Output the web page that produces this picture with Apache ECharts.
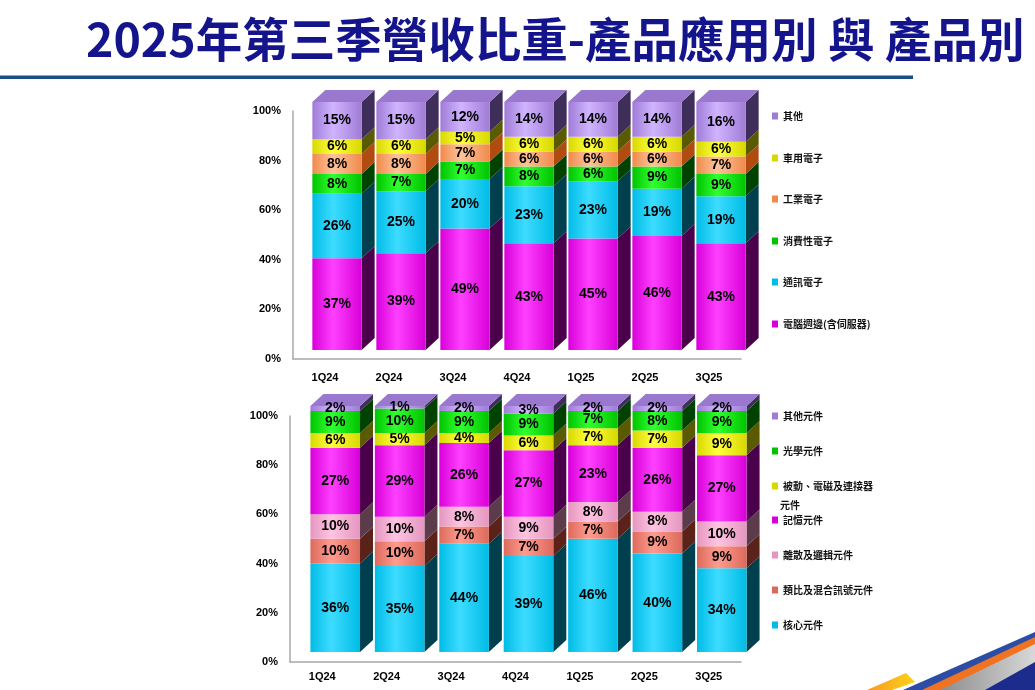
<!DOCTYPE html>
<html style="height: 100%">
<head>
    <meta charset="utf-8">
    <script src="https://cdn.jsdelivr.net/npm/echarts@6/dist/echarts.min.js"></script>
</head>
<body style="height: 100%; margin: 0; background: #fff">
<div id="container" style="width: 1035px; height: 690px"></div>

<script type="text/javascript">
    // quarters
    var quarters = ['1Q24', '2Q24', '3Q24', '4Q24', '1Q25', '2Q25', '3Q25'];
    var yTicks = [0, 20, 40, 60, 80, 100];

    // 產品應用別 (bottom -> top)
    var appNames = ['電腦週邊(含伺服器)', '通訊電子', '消費性電子', '工業電子', '車用電子', '其他'];
    var pcServer   = [37, 39, 49, 43, 45, 46, 43];
    var comm       = [26, 25, 20, 23, 23, 19, 19];
    var consumer   = [8, 7, 7, 8, 6, 9, 9];
    var industrial = [8, 8, 7, 6, 6, 6, 7];
    var automotive = [6, 6, 5, 6, 6, 6, 6];
    var appOther   = [15, 15, 12, 14, 14, 14, 16];

    // 產品別 (bottom -> top)
    var prodNames = ['核心元件', '類比及混合訊號元件', '離散及邏輯元件', '記憶元件', '被動、電磁及連接器元件', '光學元件', '其他元件'];
    var core     = [36, 35, 44, 39, 46, 40, 34];
    var analog   = [10, 10, 7, 7, 7, 9, 9];
    var discrete = [10, 10, 8, 9, 8, 8, 10];
    var memory   = [27, 29, 26, 27, 23, 26, 27];
    var passive  = [6, 5, 4, 6, 7, 7, 9];
    var optical  = [9, 10, 9, 9, 7, 8, 9];
    var prodOther = [2, 1, 2, 3, 2, 2, 2];

    // colours: [front, highlight, side, top]
    var C = {
        magenta: ['#d800d8', '#ff40ff', '#4a004a', '#ff88ff'],
        cyan:    ['#00bce6', '#3ddcff', '#003f4e', '#7ce6ff'],
        green:   ['#00c400', '#30ff30', '#004200', '#60ff60'],
        orange:  ['#f08a4c', '#ffc39a', '#b04c10', '#ffb080'],
        yellow:  ['#d8d800', '#ffff40', '#5a5a00', '#ffff70'],
        lavender:['#a07cd6', '#d0b4ff', '#3f2d5a', '#9a78d0'],
        salmon:  ['#dc6a5c', '#ff9c8e', '#5a2219', '#ff9c8e'],
        pink:    ['#e496bf', '#ffc4e2', '#5c3c4a', '#ffc4e2']
    };
    var appColors = [C.magenta, C.cyan, C.green, C.orange, C.yellow, C.lavender];
    var prodColors = [C.cyan, C.salmon, C.pink, C.magenta, C.yellow, C.green, C.lavender];

    var DX = 13, DY = 12;

    function buildSeries(names, lists, colors, axisIdx, offX, offY) {
        var base = quarters.map(function () { return 0; });
        return names.map(function (name, k) {
            var col = colors[k];
            var isTop = k === names.length - 1;
            var data = lists[k].map(function (v, i) { return [i, base[i], v]; });
            lists[k].forEach(function (v, i) { base[i] += v; });
            return {
                name: name,
                type: 'custom',
                xAxisIndex: axisIdx,
                yAxisIndex: axisIdx,
                itemStyle: { color: col[0] },
                encode: { x: 0, y: 2 },
                data: data,
                renderItem: function (params, api) {
                    var i = api.value(0), b = api.value(1), v = api.value(2);
                    var p0 = api.coord([i, b]);
                    var p1 = api.coord([i, b + v]);
                    var bw = api.size([1, 0])[0] * 0.77;
                    var cx = p0[0] + offX;
                    var y0 = p0[1] - offY, y1 = p1[1] - offY;
                    var xl = cx - bw / 2, xr = cx + bw / 2;
                    var kids = [
                        { type: 'polygon', shape: { points: [[xr, y0], [xr + DX, y0 - DY], [xr + DX, y1 - DY], [xr, y1]] },
                          style: { fill: col[2] } },
                        { type: 'rect', shape: { x: xl, y: y1, width: bw, height: y0 - y1 },
                          style: { fill: { type: 'linear', x: 0, y: 0, x2: 1, y2: 0, colorStops: [
                              { offset: 0, color: col[0] }, { offset: 0.42, color: col[1] }, { offset: 1, color: col[0] }] } } }
                    ];
                    if (isTop) {
                        kids.push({ type: 'polygon', shape: { points: [[xl, y1], [xr, y1], [xr + DX, y1 - DY], [xl + DX, y1 - DY]] },
                            style: { fill: col[3] } });
                    }
                    kids.push({ type: 'text', z2: 100, style: {
                        text: v + '%', x: cx, y: (y0 + y1) / 2, fill: '#000',
                        fontSize: 14, fontWeight: 'bold', fontFamily: 'Liberation Sans',
                        align: 'center', verticalAlign: 'middle' } });
                    return { type: 'group', children: kids };
                }
            };
        });
    }

    function legendsFor(names, tops) {
        return names.map(function (name, k) {
            return {
                data: [name],
                left: 772,
                top: tops[k] - 7,
                orient: 'vertical',
                padding: 0,
                icon: 'rect',
                itemWidth: 6,
                itemHeight: 7,
                selectedMode: false,
                formatter: function (n) { return n === '被動、電磁及連接器元件' ? '被動、電磁及連接器' : n; },
                textStyle: { fontSize: 10, color: '#111', fontWeight: 'bold', fontFamily: 'Noto Sans CJK TC' }
            };
        });
    }

    var axisLineStyle = { show: true, lineStyle: { color: '#a8a8a8', width: 1.5 } };
    function xAx(gi, margin) {
        return { type: 'category', gridIndex: gi, data: quarters, axisTick: { show: false },
            axisLine: axisLineStyle,
            axisLabel: { margin: margin, color: '#000', fontWeight: 'bold', fontSize: 11, fontFamily: 'Liberation Sans' } };
    }
    function yAx(gi) {
        return { type: 'value', gridIndex: gi, min: yTicks[0], max: yTicks[yTicks.length - 1], interval: yTicks[1] - yTicks[0],
            axisLine: axisLineStyle, axisTick: { show: false }, splitLine: { show: false },
            axisLabel: { margin: 12, color: '#000', fontWeight: 'bold', fontSize: 11, fontFamily: 'Liberation Sans', formatter: '{value}%' } };
    }

    var appLists = [pcServer, comm, consumer, industrial, automotive, appOther];
    var prodLists = [core, analog, discrete, memory, passive, optical, prodOther];

    var series = buildSeries(appNames, appLists, appColors, 0, 12, 9)
        .concat(buildSeries(prodNames, prodLists, prodColors, 1, 13, 10));

    var legends = legendsFor(appNames, [326, 284, 243, 201, 160, 118])
        .concat(legendsFor(prodNames, [627, 592, 557, 522, 488, 453, 418]));

    var dom = document.getElementById('container');
    var myChart = echarts.init(dom);
    myChart.setOption({
        animation: false,
        backgroundColor: '#fff',
        title: {
            text: '2025年第三季營收比重-產品應用別 與 產品別',
            left: 81, top: 11,
            textStyle: { fontSize: 46.5, fontWeight: 'bold', color: '#14148c', fontFamily: 'Noto Sans CJK TC' }
        },
        graphic: [
            { type: 'rect', shape: { x: 0, y: 75.5, width: 913, height: 3.5 }, style: { fill: '#1b4f82' } },
            { type: 'text', style: { text: '元件', x: 780, y: 505, fill: '#111', fontSize: 10, fontWeight: 'bold', fontFamily: 'Noto Sans CJK TC', verticalAlign: 'middle' } },
            { type: 'polygon', shape: { points: [[867, 690], [906, 673], [915, 682], [892, 690]] },
              style: { fill: { type: 'linear', x: 0, y: 0, x2: 1, y2: 0, colorStops: [{ offset: 0, color: '#f59a20' }, { offset: 1, color: '#ffd21a' }] } } },
            { type: 'polygon', shape: { points: [[903, 690], [1035, 632], [1035, 690]] }, style: { fill: '#2c4da6' } },
            { type: 'polygon', shape: { points: [[922, 690], [1035, 637], [1035, 690]] }, style: { fill: '#f07322' } },
            { type: 'polygon', shape: { points: [[940, 690], [1035, 644], [1035, 690]] },
              style: { fill: { type: 'linear', x: 0, y: 0, x2: 1, y2: 0, colorStops: [{ offset: 0, color: '#8c8c8c' }, { offset: 1, color: '#d8d8d8' }] } } },
            { type: 'polygon', shape: { points: [[985, 690], [1035, 662], [1035, 690]] }, style: { fill: '#1c2c8c' } }
        ],
        legend: legends,
        grid: [
            { left: 293, top: 111, width: 448, height: 248 },
            { left: 290, top: 416, width: 451, height: 246 }
        ],
        xAxis: [xAx(0, 13), xAx(1, 9)],
        yAxis: [yAx(0), yAx(1)],
        series: series
    });
</script>
</body>
</html>
